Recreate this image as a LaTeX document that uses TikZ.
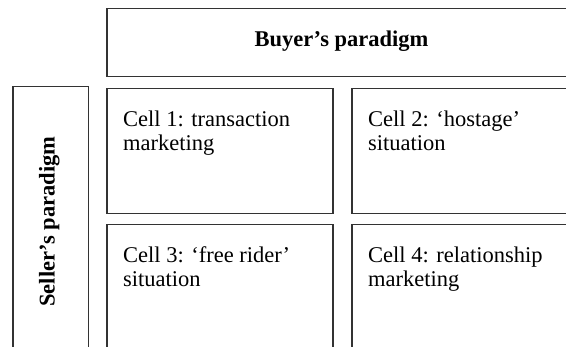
\documentclass[tikz,border=0pt]{standalone}
\usepackage{fontspec}
\setmainfont{Liberation Serif}
\begin{document}
\begin{tikzpicture}[x=1pt,y=-1pt,
  box/.style={draw=black!80, line width=1.5pt, anchor=north west, inner sep=0pt, fill=none},
  celltext/.style={anchor=base west, align=left, inner sep=0pt, font=\fontsize{22.5}{23.4}\selectfont},
  headtext/.style={inner sep=0pt, font=\fontsize{22.5}{23.4}\selectfont\bfseries}]
\useasboundingbox (0,0) rectangle (566,347);
\clip (0,0) rectangle (566,347);
\fill[white] (0,0) rectangle (566,347);
% frames
\node[box, minimum width=474pt, minimum height=68pt] (buyer) at (106,8) {};
\node[box, minimum width=75.7pt, minimum height=274pt] (seller) at (12,86) {};
\node[box, minimum width=226pt, minimum height=125pt] (cell1) at (106,88) {};
\node[box, minimum width=229pt, minimum height=125pt] (cell2) at (351,88) {};
\node[box, minimum width=226pt, minimum height=136pt] (cell3) at (106,224) {};
\node[box, minimum width=229pt, minimum height=136pt] (cell4) at (351,224) {};
% texts
\node[headtext, anchor=base] (tbuyer) at (341.5,47) {Buyer’s paradigm};
\node[headtext, anchor=base, rotate=90] (tseller) at (54.5,221.5) {Seller’s paradigm};
\node[celltext] (t1) at (123,150.4) {Cell 1: transaction\\marketing};
\node[celltext] (t2) at (368,150.4) {Cell 2: ‘hostage’\\situation};
\node[celltext] (t3) at (123,286.4) {Cell 3: ‘free rider’\\situation};
\node[celltext] (t4) at (368,286.4) {Cell 4: relationship\\marketing};
\end{tikzpicture}
\end{document}
